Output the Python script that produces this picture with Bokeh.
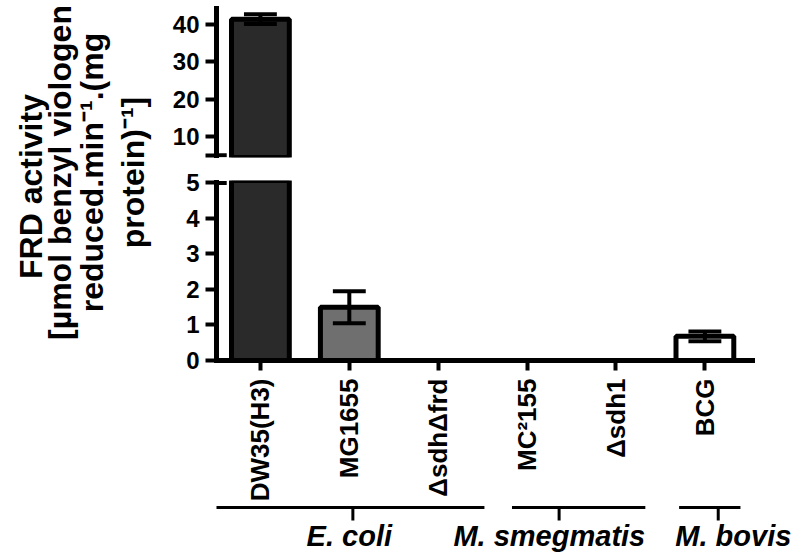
import math
from bokeh.plotting import figure
from bokeh.layouts import row, column
from bokeh.models import Range1d, FixedTicker, ColumnDataSource
from bokeh.core.properties import value
from bokeh.embed import file_html
from bokeh.resources import INLINE

# ---------------- data ----------------
strains = ["DW35(H3)", "MG1655", "ΔsdhΔfrd", "MC²155", "Δsdh1", "BCG"]
activity = [41.4, 1.5, 0.0, 0.0, 0.0, 0.68]
sem = [1.3, 0.45, 0.0, 0.0, 0.0, 0.14]
organisms = ["E. coli", "M. smegmatis", "M. bovis"]
upper_ticks = [10, 20, 30, 40]
lower_ticks = [0, 1, 2, 3, 4, 5]
ylabel_lines = ["FRD activity", "[µmol benzyl viologen", "reduced.min⁻¹.(mg", "protein)⁻¹]"]

# ---------------- styles / layout ----------------
bar_fill = ["#2a2a2a", "#6f6f6f", "white", "white", "white", "white"]
FONT_NAME = "Liberation Sans"
FONT = value(FONT_NAME)
XR = Range1d(-0.494, 6.053)
BREAK = 5
UP_RANGE = (4.4, 44.27)
LOW_RANGE = (0, 5.07)
bracket_start = [-0.5, 2.83, 4.71]
bracket_end = [2.52, 4.33, 5.40]
bracket_tick = [1.04, 3.36, 5.15]
group_label_x = [1.0, 3.25, 5.32]
title_x = [30, 59, 91, 132]
title_y = [374, 388, 388, 388]

xs = list(range(len(strains)))


def bar_sources(min_top):
    keep = [i for i in xs if activity[i] > min_top]
    bars = ColumnDataSource(dict(x=[xs[i] for i in keep],
                                 top=[activity[i] for i in keep],
                                 color=[bar_fill[i] for i in keep]))
    ek = [i for i in keep if sem[i] > 0]
    errs = ColumnDataSource(dict(
        x=[xs[i] for i in ek],
        lo=[activity[i] - sem[i] for i in ek],
        hi=[activity[i] + sem[i] for i in ek],
        cl=[xs[i] - 0.185 for i in ek],
        cr=[xs[i] + 0.185 for i in ek],
    ))
    return bars, errs


def base(p):
    p.grid.visible = False
    p.outline_line_color = None
    p.background_fill_color = "white"
    p.border_fill_color = "white"


def style_yaxis(ax):
    ax.axis_line_width = 5
    ax.axis_line_cap = "square"
    ax.major_tick_line_width = 4
    ax.major_tick_out = 11
    ax.major_tick_in = 0
    ax.minor_tick_line_color = None
    ax.major_label_standoff = 6
    ax.major_label_text_font = FONT_NAME
    ax.major_label_text_font_style = "bold"
    ax.major_label_text_font_size = "24px"
    ax.major_label_text_color = "black"


def draw_bars(p, min_top, bottom):
    bars, errs = bar_sources(min_top)
    p.vbar(x="x", top="top", bottom=bottom, width=0.65, fill_color="color",
           line_color="black", line_width=5, source=bars)
    p.segment(x0="x", y0="lo", x1="x", y1="hi", line_color="black", line_width=4, source=errs)
    p.segment(x0="cl", y0="hi", x1="cr", y1="hi", line_color="black", line_width=4, source=errs)
    p.segment(x0="cl", y0="lo", x1="cr", y1="lo", line_color="black", line_width=4, source=errs)
    # inner half of the axis-break mark
    p.segment(x0=[XR.start], y0=[BREAK], x1=[XR.start + 0.115], y1=[BREAK],
              line_color="black", line_width=4)


common = dict(x_range=XR, frame_width=582, output_backend="svg", toolbar_location=None,
              min_border_left=48, min_border_right=0)

# upper panel
upper = figure(y_range=Range1d(*UP_RANGE), frame_height=149, min_border_top=8,
               min_border_bottom=8, x_axis_location=None, **common)
base(upper)
draw_bars(upper, BREAK, UP_RANGE[0] - 1)
style_yaxis(upper.yaxis[0])
upper.yaxis.ticker = FixedTicker(ticks=[BREAK] + upper_ticks)
upper.yaxis.major_label_overrides = {BREAK: ""}
upper.yaxis.bounds = (BREAK, UP_RANGE[1])

# lower panel
lower = figure(y_range=Range1d(*LOW_RANGE), frame_height=180, min_border_top=15,
               min_border_bottom=142, **common)
base(lower)
draw_bars(lower, -1, 0)
style_yaxis(lower.yaxis[0])
lower.yaxis.ticker = FixedTicker(ticks=lower_ticks)
lower.yaxis.bounds = (0, BREAK)
xa = lower.xaxis[0]
xa.ticker = FixedTicker(ticks=xs)
xa.major_label_overrides = {i: s for i, s in zip(xs, strains)}
xa.major_label_orientation = math.pi / 2
xa.bounds = (XR.start, 5.53)
xa.axis_line_width = 5
xa.axis_line_cap = "square"
xa.major_tick_line_width = 4
xa.major_tick_out = 10
xa.major_tick_in = 0
xa.minor_tick_line_color = None
xa.major_label_standoff = 8
xa.major_label_text_font = FONT_NAME
xa.major_label_text_font_style = "bold"
xa.major_label_text_font_size = "26px"
xa.major_label_text_color = "black"

# group brackets
brk = figure(y_range=Range1d(58, 0), frame_height=58, min_border_top=0, min_border_bottom=0,
             x_axis_location=None, y_axis_location=None, **common)
base(brk)
brk.segment(x0=bracket_start, y0=[3] * 3, x1=bracket_end, y1=[3] * 3,
            line_color="black", line_width=3)
brk.segment(x0=bracket_tick, y0=[3] * 3, x1=bracket_tick, y1=[16] * 3,
            line_color="black", line_width=3)
brk.text(x=group_label_x, y=[31] * 3, text=organisms, text_font=FONT,
         text_font_style="bold italic", text_font_size="29px", text_align="center",
         text_baseline="alphabetic", text_color="black")

# y-axis title
ttl = figure(x_range=Range1d(0, 168), y_range=Range1d(0, 560), frame_width=168,
             frame_height=560, min_border=0, min_border_left=0, min_border_right=0,
             min_border_top=0, min_border_bottom=0, x_axis_location=None,
             y_axis_location=None, output_backend="svg", toolbar_location=None)
base(ttl)
ttl.text(x=title_x, y=title_y, text=ylabel_lines, angle=math.pi / 2, text_font=FONT,
         text_font_style="bold", text_font_size="32px", text_align="center",
         text_baseline="middle", text_color="black")

layout = row(ttl, column(upper, lower, brk))
open("out.html", "w").write(file_html(layout, INLINE, "FRD activity"))
